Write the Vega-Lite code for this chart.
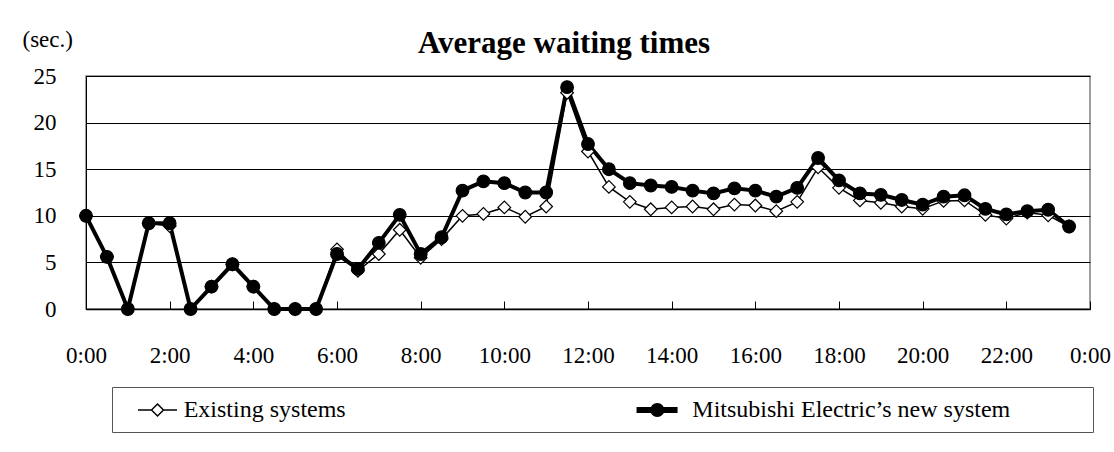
{
  "$schema": "https://vega.github.io/schema/vega-lite/v6.json",
  "width": 1004,
  "height": 233,
  "autosize": "none",
  "padding": {"left": 86, "top": 76, "right": 24, "bottom": 143},
  "background": "white",
  "config": {
    "font": "Liberation Serif",
    "view": {"stroke": "#808080", "strokeWidth": 1.5},
    "axis": {"labelColor": "black", "labelFont": "Liberation Serif", "titleFont": "Liberation Serif"},
    "legend": {"labelFont": "Liberation Serif", "labelFontSize": 24, "labelColor": "black"}
  },
  "title": {
    "text": "Average waiting times",
    "font": "Liberation Serif",
    "fontSize": 31,
    "fontWeight": "bold",
    "color": "black",
    "anchor": "middle",
    "frame": "group",
    "baseline": "alphabetic",
    "offset": -56,
    "dx": -24
  },
  "data": {
    "values": [
      {"hour": 0, "series": "Existing systems", "value": 10.0},
      {"hour": 0.5, "series": "Existing systems", "value": 5.6},
      {"hour": 1, "series": "Existing systems", "value": 0},
      {"hour": 1.5, "series": "Existing systems", "value": 9.2},
      {"hour": 2, "series": "Existing systems", "value": 8.9},
      {"hour": 2.5, "series": "Existing systems", "value": 0},
      {"hour": 3, "series": "Existing systems", "value": 2.4},
      {"hour": 3.5, "series": "Existing systems", "value": 4.8},
      {"hour": 4, "series": "Existing systems", "value": 2.4},
      {"hour": 4.5, "series": "Existing systems", "value": 0},
      {"hour": 5, "series": "Existing systems", "value": 0},
      {"hour": 5.5, "series": "Existing systems", "value": 0},
      {"hour": 6, "series": "Existing systems", "value": 6.4},
      {"hour": 6.5, "series": "Existing systems", "value": 4.1},
      {"hour": 7, "series": "Existing systems", "value": 5.9},
      {"hour": 7.5, "series": "Existing systems", "value": 8.5},
      {"hour": 8, "series": "Existing systems", "value": 5.5},
      {"hour": 8.5, "series": "Existing systems", "value": 7.5},
      {"hour": 9, "series": "Existing systems", "value": 10.0},
      {"hour": 9.5, "series": "Existing systems", "value": 10.2},
      {"hour": 10, "series": "Existing systems", "value": 10.9},
      {"hour": 10.5, "series": "Existing systems", "value": 9.9},
      {"hour": 11, "series": "Existing systems", "value": 11.0},
      {"hour": 11.5, "series": "Existing systems", "value": 23.2},
      {"hour": 12, "series": "Existing systems", "value": 16.9},
      {"hour": 12.5, "series": "Existing systems", "value": 13.1},
      {"hour": 13, "series": "Existing systems", "value": 11.5},
      {"hour": 13.5, "series": "Existing systems", "value": 10.7},
      {"hour": 14, "series": "Existing systems", "value": 10.9},
      {"hour": 14.5, "series": "Existing systems", "value": 11.0},
      {"hour": 15, "series": "Existing systems", "value": 10.7},
      {"hour": 15.5, "series": "Existing systems", "value": 11.2},
      {"hour": 16, "series": "Existing systems", "value": 11.1},
      {"hour": 16.5, "series": "Existing systems", "value": 10.5},
      {"hour": 17, "series": "Existing systems", "value": 11.5},
      {"hour": 17.5, "series": "Existing systems", "value": 15.2},
      {"hour": 18, "series": "Existing systems", "value": 13.0},
      {"hour": 18.5, "series": "Existing systems", "value": 11.65},
      {"hour": 19, "series": "Existing systems", "value": 11.4},
      {"hour": 19.5, "series": "Existing systems", "value": 11.0},
      {"hour": 20, "series": "Existing systems", "value": 10.75},
      {"hour": 20.5, "series": "Existing systems", "value": 11.6},
      {"hour": 21, "series": "Existing systems", "value": 11.65},
      {"hour": 21.5, "series": "Existing systems", "value": 10.1},
      {"hour": 22, "series": "Existing systems", "value": 9.7},
      {"hour": 22.5, "series": "Existing systems", "value": 10.35},
      {"hour": 23, "series": "Existing systems", "value": 10.05},
      {"hour": 23.5, "series": "Existing systems", "value": 8.85},
      {"hour": 0, "series": "Mitsubishi Electric’s new system", "value": 10.0},
      {"hour": 0.5, "series": "Mitsubishi Electric’s new system", "value": 5.6},
      {"hour": 1, "series": "Mitsubishi Electric’s new system", "value": 0},
      {"hour": 1.5, "series": "Mitsubishi Electric’s new system", "value": 9.2},
      {"hour": 2, "series": "Mitsubishi Electric’s new system", "value": 9.2},
      {"hour": 2.5, "series": "Mitsubishi Electric’s new system", "value": 0},
      {"hour": 3, "series": "Mitsubishi Electric’s new system", "value": 2.4},
      {"hour": 3.5, "series": "Mitsubishi Electric’s new system", "value": 4.8},
      {"hour": 4, "series": "Mitsubishi Electric’s new system", "value": 2.4},
      {"hour": 4.5, "series": "Mitsubishi Electric’s new system", "value": 0},
      {"hour": 5, "series": "Mitsubishi Electric’s new system", "value": 0},
      {"hour": 5.5, "series": "Mitsubishi Electric’s new system", "value": 0},
      {"hour": 6, "series": "Mitsubishi Electric’s new system", "value": 5.9},
      {"hour": 6.5, "series": "Mitsubishi Electric’s new system", "value": 4.3},
      {"hour": 7, "series": "Mitsubishi Electric’s new system", "value": 7.1},
      {"hour": 7.5, "series": "Mitsubishi Electric’s new system", "value": 10.1},
      {"hour": 8, "series": "Mitsubishi Electric’s new system", "value": 5.9},
      {"hour": 8.5, "series": "Mitsubishi Electric’s new system", "value": 7.7},
      {"hour": 9, "series": "Mitsubishi Electric’s new system", "value": 12.7},
      {"hour": 9.5, "series": "Mitsubishi Electric’s new system", "value": 13.7},
      {"hour": 10, "series": "Mitsubishi Electric’s new system", "value": 13.5},
      {"hour": 10.5, "series": "Mitsubishi Electric’s new system", "value": 12.5},
      {"hour": 11, "series": "Mitsubishi Electric’s new system", "value": 12.5},
      {"hour": 11.5, "series": "Mitsubishi Electric’s new system", "value": 23.8},
      {"hour": 12, "series": "Mitsubishi Electric’s new system", "value": 17.7},
      {"hour": 12.5, "series": "Mitsubishi Electric’s new system", "value": 15.0},
      {"hour": 13, "series": "Mitsubishi Electric’s new system", "value": 13.5},
      {"hour": 13.5, "series": "Mitsubishi Electric’s new system", "value": 13.25},
      {"hour": 14, "series": "Mitsubishi Electric’s new system", "value": 13.1},
      {"hour": 14.5, "series": "Mitsubishi Electric’s new system", "value": 12.7},
      {"hour": 15, "series": "Mitsubishi Electric’s new system", "value": 12.4},
      {"hour": 15.5, "series": "Mitsubishi Electric’s new system", "value": 12.95},
      {"hour": 16, "series": "Mitsubishi Electric’s new system", "value": 12.7},
      {"hour": 16.5, "series": "Mitsubishi Electric’s new system", "value": 12.05},
      {"hour": 17, "series": "Mitsubishi Electric’s new system", "value": 13.0},
      {"hour": 17.5, "series": "Mitsubishi Electric’s new system", "value": 16.2},
      {"hour": 18, "series": "Mitsubishi Electric’s new system", "value": 13.8},
      {"hour": 18.5, "series": "Mitsubishi Electric’s new system", "value": 12.4},
      {"hour": 19, "series": "Mitsubishi Electric’s new system", "value": 12.25},
      {"hour": 19.5, "series": "Mitsubishi Electric’s new system", "value": 11.7},
      {"hour": 20, "series": "Mitsubishi Electric’s new system", "value": 11.2},
      {"hour": 20.5, "series": "Mitsubishi Electric’s new system", "value": 12.05},
      {"hour": 21, "series": "Mitsubishi Electric’s new system", "value": 12.2},
      {"hour": 21.5, "series": "Mitsubishi Electric’s new system", "value": 10.75},
      {"hour": 22, "series": "Mitsubishi Electric’s new system", "value": 10.15},
      {"hour": 22.5, "series": "Mitsubishi Electric’s new system", "value": 10.5},
      {"hour": 23, "series": "Mitsubishi Electric’s new system", "value": 10.65},
      {"hour": 23.5, "series": "Mitsubishi Electric’s new system", "value": 8.85}
    ]
  },
  "encoding": {
    "x": {
      "field": "hour",
      "type": "quantitative",
      "scale": {"domain": [0, 24], "nice": false, "zero": false},
      "axis": {
        "values": [0, 2, 4, 6, 8, 10, 12, 14, 16, 18, 20, 22, 24],
        "labelExpr": "(datum.value % 24) + ':00'",
        "grid": false,
        "tickSize": -8,
        "tickColor": "black",
        "tickWidth": 1,
        "domainColor": "black",
        "domainWidth": 1.5,
        "labelPadding": 43,
        "labelFontSize": 23,
        "labelFlush": false,
        "labelOverlap": false,
        "title": null
      }
    },
    "y": {
      "field": "value",
      "type": "quantitative",
      "scale": {"domain": [0, 25], "nice": false},
      "axis": {
        "values": [0, 5, 10, 15, 20, 25],
        "grid": true,
        "gridColor": "black",
        "gridWidth": 1,
        "ticks": false,
        "domainColor": "black",
        "domainWidth": 1,
        "labelPadding": 30,
        "labelFontSize": 23,
        "title": "(sec.)",
        "titleAngle": 0,
        "titleAlign": "left",
        "titleBaseline": "alphabetic",
        "titleX": -64,
        "titleY": -30,
        "titleFontSize": 23,
        "titleFontWeight": "normal",
        "titleColor": "black"
      }
    }
  },
  "layer": [
    {
      "mark": {"type": "point", "filled": true, "strokeWidth": 1.5, "opacity": 0, "size": 576},
      "encoding": {
        "fill": {
          "field": "series",
          "type": "nominal",
          "scale": {"domain": ["Existing systems", "Mitsubishi Electric’s new system"], "range": ["white", "black"]},
          "legend": {
            "orient": "none", "legendX": 26, "legendY": 311, "direction": "horizontal", "columns": 2, "title": null,
            "strokeColor": "#555555", "fillColor": "white", "padding": 10, "symbolSize": 576, "symbolOpacity": 1,
            "symbolStrokeWidth": 1.5, "labelOffset": 35.7, "columnPadding": 284.6,
            "labelFontSize": 24, "labelFont": "Liberation Serif", "labelColor": "black", "labelLimit": 800,
            "labelExpr": "datum.label + (datum.value === 'Existing systems' ? '' : '\u2800\u2800\u2800\u2800')"
          }
        },
        "stroke": {
          "field": "series",
          "type": "nominal",
          "scale": {"domain": ["Existing systems", "Mitsubishi Electric’s new system"], "range": ["black", "black"]},
          "legend": {
            "orient": "none", "legendX": 26, "legendY": 311, "direction": "horizontal", "columns": 2, "title": null,
            "strokeColor": "#555555", "fillColor": "white", "padding": 10, "symbolSize": 576, "symbolOpacity": 1,
            "symbolStrokeWidth": 1.5, "labelOffset": 35.7, "columnPadding": 284.6,
            "labelFontSize": 24, "labelFont": "Liberation Serif", "labelColor": "black", "labelLimit": 800,
            "labelExpr": "datum.label + (datum.value === 'Existing systems' ? '' : '\u2800\u2800\u2800\u2800')"
          }
        },
        "shape": {
          "field": "series",
          "type": "nominal",
          "scale": {
            "domain": ["Existing systems", "Mitsubishi Electric’s new system"],
            "range": [
              "M0.25,0H1.375M2.375,0H3.5M1.375,0L1.875,-0.5L2.375,0L1.875,0.5Z",
              "M-0.525,-0.18H2.767V0.18H-0.525Z M0.617,0A0.525,0.525 0 1,1 1.667,0A0.525,0.525 0 1,1 0.617,0Z"
            ]
          },
          "legend": {
            "orient": "none", "legendX": 26, "legendY": 311, "direction": "horizontal", "columns": 2, "title": null,
            "strokeColor": "#555555", "fillColor": "white", "padding": 10, "symbolSize": 576, "symbolOpacity": 1,
            "symbolStrokeWidth": 1.5, "labelOffset": 35.7, "columnPadding": 284.6,
            "labelFontSize": 24, "labelFont": "Liberation Serif", "labelColor": "black", "labelLimit": 800,
            "labelExpr": "datum.label + (datum.value === 'Existing systems' ? '' : '\u2800\u2800\u2800\u2800')"
          }
        }
      }
    },
    {
      "mark": {"type": "line", "color": "black"},
      "encoding": {
        "detail": {"field": "series", "type": "nominal"},
        "strokeWidth": {
          "condition": {"test": "datum.series === 'Existing systems'", "value": 1.5},
          "value": 4
        }
      }
    },
    {
      "mark": {"type": "point", "filled": true, "stroke": "black", "strokeWidth": 1.2, "opacity": 1, "size": 160},
      "encoding": {
        "fill": {
          "condition": {"test": "datum.series === 'Existing systems'", "value": "white"},
          "value": "black"
        },
        "shape": {
          "condition": {"test": "datum.series === 'Existing systems'", "value": "diamond"},
          "value": "circle"
        }
      }
    }
  ]
}
